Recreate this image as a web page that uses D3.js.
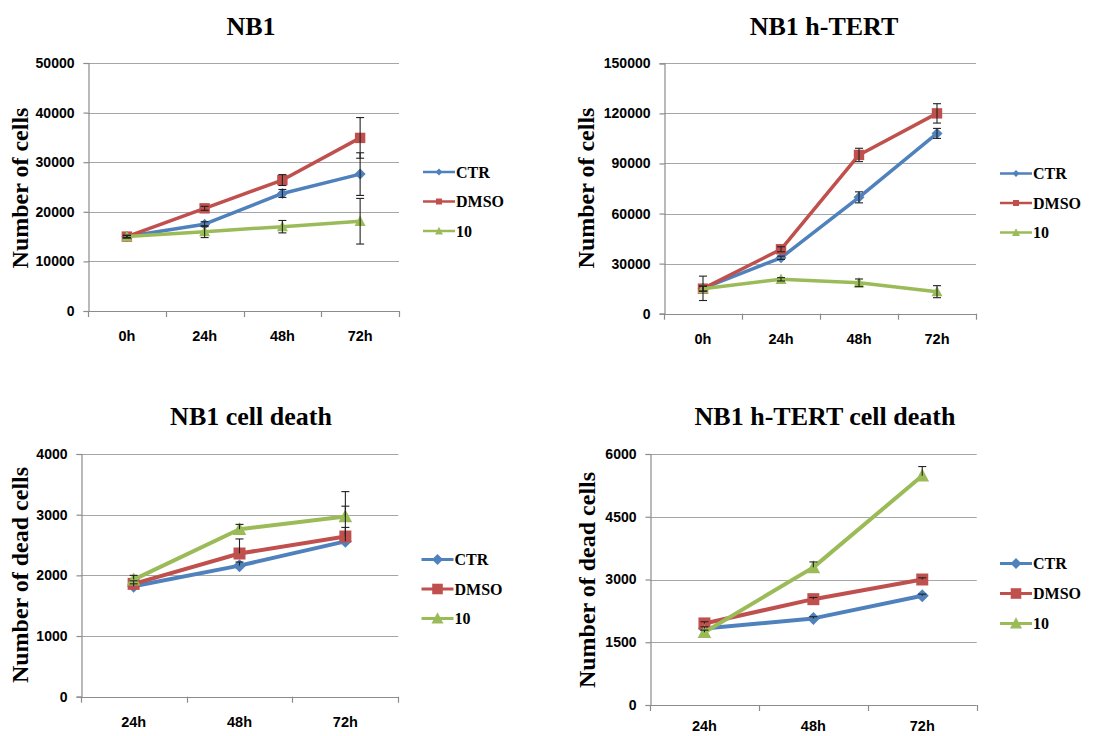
<!DOCTYPE html>
<html>
<head>
<meta charset="utf-8">
<script src="https://cdn.jsdelivr.net/npm/d3@7"></script>
<style>
  html, body { margin: 0; padding: 0; background: #fff; }
  svg { display: block; }
  .title { font-family: "Liberation Serif", "Times New Roman", serif; font-weight: bold; font-size: 26px; }
  .ylab { font-family: "Liberation Serif", "Times New Roman", serif; font-weight: bold; font-size: 24px; }
  .tick text { font-family: "Liberation Sans", Arial, sans-serif; font-weight: bold; font-size: 14px; fill: #000; }
  .xtick { font-family: "Liberation Sans", Arial, sans-serif; font-weight: bold; font-size: 14.5px; }
  .leg { font-family: "Liberation Serif", "Times New Roman", serif; font-weight: bold; font-size: 16px; }
</style>
</head>
<body>
<svg id="chart" width="1107" height="736"></svg>
<script>
// ---------- DATA ----------
const seriesNames = ["CTR", "DMSO", "10"];
const seriesColors = ["#4F81BD", "#C0504D", "#9BBB59"];
const timeTop = ["0h", "24h", "48h", "72h"];
const timeBottom = ["24h", "48h", "72h"];

// NB1 - number of cells
const nb1CTR  = [15000, 17500, 23700, 27600];
const nb1DMSO = [15000, 20700, 26400, 34900];
const nb1T10  = [15000, 16000, 17000, 18100];
const nb1CTRErr  = [200, 500, 800, 4300];
const nb1DMSOErr = [200, 400, 1100, 4100];
const nb1T10Err  = [300, 1200, 1250, 4600];
const nb1Ticks = [0, 10000, 20000, 30000, 40000, 50000];

// NB1 h-TERT - number of cells
const htCTR  = [15200, 33500, 69700, 108000];
const htDMSO = [15000, 38600, 95100, 120000];
const htT10  = [15000, 20600, 18500, 13200];
const htCTRErr  = [7300, 1000, 3300, 3000];
const htDMSOErr = [1500, 1500, 4000, 5800];
const htT10Err  = [1500, 1000, 2300, 3600];
const htTicks = [0, 30000, 60000, 90000, 120000, 150000];

// NB1 cell death (plus-only error bars)
const cdCTR  = [1820, 2160, 2560];
const cdDMSO = [1860, 2360, 2640];
const cdT10  = [1930, 2760, 2970];
const cdCTRErr  = [40, 60, 580];
const cdDMSOErr = [50, 240, 150];
const cdT10Err  = [70, 80, 410];
const cdTicks = [0, 1000, 2000, 3000, 4000];

// NB1 h-TERT cell death (plus-only error bars)
const hdCTR  = [1830, 2070, 2610];
const hdDMSO = [1950, 2530, 3000];
const hdT10  = [1740, 3290, 5480];
const hdCTRErr  = [40, 40, 40];
const hdDMSOErr = [40, 40, 40];
const hdT10Err  = [50, 130, 220];
const hdTicks = [0, 1500, 3000, 4500, 6000];

// ---------- DRAWING ----------
const svg = d3.select("#chart");

function markerPath(kind, s) {
  if (kind === 0) return `M0,${-s}L${s},0L0,${s}L${-s},0Z`;            // diamond
  if (kind === 1) return `M${-s},${-s}L${s},${-s}L${s},${s}L${-s},${s}Z`; // square
  return `M0,${-s * 1.05}L${s},${s * 0.85}L${-s},${s * 0.85}Z`;          // triangle
}

function drawPanel(cfg) {
  const g = svg.append("g");
  const x = d3.scaleBand().domain(cfg.cats).range([cfg.x0, cfg.x1]).padding(0);
  const y = d3.scaleLinear().domain([0, cfg.ticks[cfg.ticks.length - 1]]).range([cfg.yb, cfg.yt]);
  const cx = c => x(c) + x.bandwidth() / 2;

  // gridlines
  g.append("g").selectAll("line").data(cfg.ticks.filter(t => t > 0)).join("line")
    .attr("x1", cfg.x0).attr("x2", cfg.x1)
    .attr("y1", d => Math.round(y(d)) + 0.5).attr("y2", d => Math.round(y(d)) + 0.5)
    .attr("stroke", "#a6a6a6").attr("stroke-width", 1.2);

  // y axis
  const ya = g.append("g").attr("transform", `translate(${Math.round(cfg.x0) + 0.5},0)`)
    .call(d3.axisLeft(y).tickValues(cfg.ticks).tickSize(5).tickPadding(9).tickFormat(d3.format("d")));
  ya.select(".domain").attr("stroke", "#8c8c8c").attr("stroke-width", 1.2);
  ya.selectAll(".tick line").attr("stroke", "#8c8c8c").attr("stroke-width", 1.2);

  // x axis line + ticks at band edges
  g.append("line").attr("x1", cfg.x0).attr("x2", cfg.x1)
    .attr("y1", Math.round(cfg.yb) + 0.5).attr("y2", Math.round(cfg.yb) + 0.5)
    .attr("stroke", "#8c8c8c").attr("stroke-width", 1.2);
  const edges = cfg.cats.map(c => x(c)).concat([cfg.x1]);
  g.append("g").selectAll("line").data(edges).join("line")
    .attr("x1", d => Math.round(d) + 0.5).attr("x2", d => Math.round(d) + 0.5)
    .attr("y1", cfg.yb).attr("y2", cfg.yb + 6)
    .attr("stroke", "#8c8c8c").attr("stroke-width", 1.2);
  g.append("g").selectAll("text").data(cfg.cats).join("text")
    .attr("class", "xtick").attr("x", d => cx(d)).attr("y", Math.min(cfg.yb + 30, 731))
    .attr("text-anchor", "middle").text(d => d);

  // title and y label
  g.append("text").attr("class", "title").attr("x", cfg.titleX).attr("y", cfg.titleY)
    .attr("text-anchor", "middle").text(cfg.title);
  g.append("text").attr("class", "ylab")
    .attr("transform", `translate(${cfg.ylabX},${cfg.ylabY}) rotate(-90)`)
    .attr("text-anchor", "middle").text(cfg.ylabel);

  // series
  const line = d3.line().x((d, i) => cx(cfg.cats[i])).y(d => y(d));
  cfg.series.forEach((s, k) => {
    const sg = g.append("g");
    sg.append("path").datum(s.values).attr("d", line)
      .attr("fill", "none").attr("stroke", seriesColors[k]).attr("stroke-width", cfg.lw)
      .attr("stroke-linejoin", "round");
    sg.selectAll("path.mk").data(s.values).join("path").attr("class", "mk")
      .attr("transform", (d, i) => `translate(${cx(cfg.cats[i])},${y(d)})`)
      .attr("d", markerPath(k, cfg.ms[k])).attr("fill", seriesColors[k]);
  });
  // error bars
  cfg.series.forEach((s, k) => {
    const eg = g.append("g").attr("stroke", "#222").attr("stroke-width", 1.1);
    s.values.forEach((v, i) => {
      const px = cx(cfg.cats[i]);
      const top = y(v + s.errs[i]);
      const bot = cfg.plusOnly ? y(v) : y(v - s.errs[i]);
      eg.append("line").attr("x1", px).attr("x2", px).attr("y1", top).attr("y2", bot);
      eg.append("line").attr("x1", px - 4).attr("x2", px + 4).attr("y1", top).attr("y2", top);
      if (!cfg.plusOnly)
        eg.append("line").attr("x1", px - 4).attr("x2", px + 4).attr("y1", bot).attr("y2", bot);
    });
  });

  // legend
  seriesNames.forEach((n, k) => {
    const ly = cfg.legY + k * cfg.legDy;
    g.append("line").attr("x1", cfg.legX).attr("x2", cfg.legX + 32).attr("y1", ly).attr("y2", ly)
      .attr("stroke", seriesColors[k]).attr("stroke-width", cfg.legLw);
    g.append("path").attr("transform", `translate(${cfg.legX + 16},${ly})`)
      .attr("d", markerPath(k, cfg.legMs[k])).attr("fill", seriesColors[k]);
    g.append("text").attr("class", "leg").attr("x", cfg.legX + 33).attr("y", ly + 5.5).text(n);
  });
}

const mkSeries = (vals, errs) => vals.map((v, i) => ({ values: v, errs: errs[i] }));

drawPanel({
  cats: timeTop, ticks: nb1Ticks, x0: 88, x1: 399, yt: 63, yb: 311,
  series: mkSeries([nb1CTR, nb1DMSO, nb1T10], [nb1CTRErr, nb1DMSOErr, nb1T10Err]),
  title: "NB1", titleX: 251, titleY: 35,
  ylabel: "Number of cells", ylabX: 28, ylabY: 188,
  lw: 3.5, ms: [5.5, 5.2, 5.5], plusOnly: false,
  legX: 423, legY: 172, legDy: 29.5, legLw: 2.5, legMs: [3.5, 3, 4]
});
drawPanel({
  cats: timeTop, ticks: htTicks, x0: 664, x1: 976, yt: 63.3, yb: 313.7,
  series: mkSeries([htCTR, htDMSO, htT10], [htCTRErr, htDMSOErr, htT10Err]),
  title: "NB1 h-TERT", titleX: 824, titleY: 35,
  ylabel: "Number of cells", ylabX: 594, ylabY: 188,
  lw: 3.5, ms: [5.5, 5.2, 5.5], plusOnly: false,
  legX: 1000, legY: 173.5, legDy: 29.5, legLw: 2.5, legMs: [3.5, 3, 4]
});
drawPanel({
  cats: timeBottom, ticks: cdTicks, x0: 80.7, x1: 398.3, yt: 454, yb: 696.7,
  series: mkSeries([cdCTR, cdDMSO, cdT10], [cdCTRErr, cdDMSOErr, cdT10Err]),
  title: "NB1 cell death", titleX: 251, titleY: 425,
  ylabel: "Number of dead cells", ylabX: 28, ylabY: 575,
  lw: 4, ms: [6.5, 6, 6.8], plusOnly: true,
  legX: 421.5, legY: 559.5, legDy: 29.5, legLw: 3, legMs: [5.5, 5.3, 6]
});
drawPanel({
  cats: timeBottom, ticks: hdTicks, x0: 650, x1: 976.7, yt: 454, yb: 705,
  series: mkSeries([hdCTR, hdDMSO, hdT10], [hdCTRErr, hdDMSOErr, hdT10Err]),
  title: "NB1 h-TERT cell death", titleX: 825, titleY: 425,
  ylabel: "Number of dead cells", ylabX: 595, ylabY: 580,
  lw: 4, ms: [6.5, 6, 6.8], plusOnly: true,
  legX: 1000, legY: 563.5, legDy: 30, legLw: 3, legMs: [5.5, 5.3, 6]
});
</script>
</body>
</html>
